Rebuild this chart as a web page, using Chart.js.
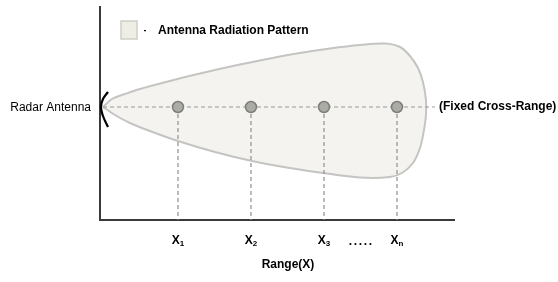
<!DOCTYPE html>
<html>
<head>
<meta charset="utf-8">
<script src="https://cdn.jsdelivr.net/npm/chart.js@4/dist/chart.umd.min.js"></script>
<style>
  html, body { margin: 0; padding: 0; background: #ffffff; }
  #wrap { width: 558px; height: 282px; position: relative; }
</style>
</head>
<body>
<div id="wrap"><canvas id="c" width="558" height="282"></canvas></div>
<script>
// ---- data ----
const categories = ['X1', 'X2', 'X3', 'Xn'];
const tickMain = ['X', 'X', 'X', 'X'];
const tickSub = ['1', '2', '3', 'n'];
const rangePositions = [1, 2, 3, 4];
const crossRangeValues = [0, 0, 0, 0];

// outline of the antenna radiation pattern (range, cross-range)
const patternX = [-0.027, 0.096, 0.274, 0.479, 0.890, 1.301, 1.753, 2.260, 2.671, 3.082, 3.493, 3.836, 4.041, 4.178, 4.288, 4.356, 4.397,
                  4.397, 4.370, 4.315, 4.219, 4.068, 3.904, 3.493, 2.986, 2.534, 2.014, 1.507, 1.000, 0.616, 0.342, 0.137, -0.027];
const patternY = [0, 0.16, 0.26, 0.36, 0.52, 0.67, 0.82, 0.97, 1.08, 1.17, 1.24, 1.27, 1.20, 1.02, 0.78, 0.50, 0.14,
                  -0.16, -0.46, -0.82, -1.12, -1.32, -1.40, -1.41, -1.32, -1.22, -1.08, -0.90, -0.68, -0.48, -0.32, -0.16, 0];

// radar antenna arc
const antennaX = [0.041, -0.027, -0.055, -0.027, 0.041];
const antennaY = [0.30, 0.16, 0.0, -0.18, -0.40];

// fixed cross-range line
const crossLineX = [-0.027, 4.52];
const crossLineY = [0, 0];

// axis limits
const xMin = -0.068, xMax = 4.781;
const yMin = -2.26, yMax = 2.0;

const legendLabel = 'Antenna Radiation Pattern';
const antennaLabel = 'Radar Antenna';
const crossLabel = '(Fixed Cross-Range)';
const xTitle = 'Range(X)';

// ---- build datasets ----
const zip = (xs, ys) => xs.map((x, i) => ({ x: x, y: ys[i] }));
const verticalData = [];
rangePositions.forEach((x, i) => {
  verticalData.push({ x: x, y: crossRangeValues[i] });
  verticalData.push({ x: x, y: yMin });
  verticalData.push({ x: x, y: null });
});

const FONT = '"Liberation Sans", Arial, sans-serif';

const textPlugin = {
  id: 'texts',
  afterDraw(chart) {
    const ctx = chart.ctx;
    const xs = chart.scales.x, ys = chart.scales.y;
    ctx.save();
    ctx.fillStyle = '#000';
    ctx.textBaseline = 'middle';
    // legend
    ctx.fillStyle = '#efeee4';
    ctx.strokeStyle = '#cfcfc6';
    ctx.lineWidth = 1.5;
    ctx.fillRect(121, 21, 16, 18);
    ctx.strokeRect(121, 21, 16, 18);
    ctx.fillStyle = '#000';
    ctx.fillRect(144, 30, 2, 1.2);
    ctx.font = 'bold 12px ' + FONT;
    ctx.textAlign = 'left';
    ctx.fillText(legendLabel, 158, 31);
    // radar antenna label
    ctx.font = '12px ' + FONT;
    ctx.textAlign = 'right';
    const y0 = ys.getPixelForValue(0);
    ctx.fillText(antennaLabel, 91, y0 + 1);
    // cross range label
    ctx.font = 'bold 12px ' + FONT;
    ctx.textAlign = 'left';
    ctx.fillText(crossLabel, 439, y0);
    // tick labels
    ctx.textBaseline = 'alphabetic';
    rangePositions.forEach((v, i) => {
      const px = xs.getPixelForValue(v);
      ctx.font = 'bold 12px ' + FONT;
      const wMain = ctx.measureText(tickMain[i]).width;
      ctx.font = 'bold 8px ' + FONT;
      const wSub = ctx.measureText(tickSub[i]).width;
      const left = px - (wMain + wSub) / 2;
      ctx.font = 'bold 12px ' + FONT;
      ctx.textAlign = 'left';
      ctx.fillText(tickMain[i], left, 244);
      ctx.font = 'bold 8px ' + FONT;
      ctx.fillText(tickSub[i], left + wMain, 246);
    });
    // ellipsis between X3 and Xn
    ctx.font = 'bold 12px ' + FONT;
    const dotsX = (xs.getPixelForValue(rangePositions[2]) + xs.getPixelForValue(rangePositions[3])) / 2;
    ctx.textAlign = 'center';
    for (let k = 0; k < 5; k++) {
      ctx.fillText('.', dotsX - 10 + k * 5, 245);
    }
    // axis title
    ctx.textAlign = 'center';
    ctx.fillText(xTitle, 288, 268);
    ctx.restore();
  }
};

new Chart(document.getElementById('c'), {
  type: 'scatter',
  data: {
    datasets: [
      {
        label: legendLabel,
        data: zip(patternX, patternY),
        showLine: true,
        tension: 0.35,
        fill: 'shape',
        backgroundColor: '#f4f3ef',
        borderColor: '#c4c4c2',
        borderWidth: 2,
        pointRadius: 0,
        order: 5,
        clip: false
      },
      {
        label: 'cross',
        data: zip(crossLineX, crossLineY),
        showLine: true,
        borderColor: '#9a9a9a',
        borderWidth: 1.2,
        borderDash: [4, 3],
        pointRadius: 0,
        order: 4,
        clip: false
      },
      {
        label: 'verticals',
        data: verticalData,
        showLine: true,
        spanGaps: false,
        borderColor: '#8f8f8f',
        borderWidth: 1.2,
        borderDash: [4, 3],
        pointRadius: 0,
        order: 3
      },
      {
        label: 'positions',
        data: zip(rangePositions, crossRangeValues),
        showLine: false,
        pointRadius: 5.5,
        pointBackgroundColor: '#acaca6',
        pointBorderColor: '#7e7e79',
        pointBorderWidth: 1.5,
        order: 1
      },
      {
        label: 'antenna',
        data: zip(antennaX, antennaY),
        showLine: true,
        tension: 0.4,
        borderColor: '#000',
        borderWidth: 2.2,
        pointRadius: 0,
        order: 0,
        clip: false
      }
    ]
  },
  options: {
    responsive: false,
    animation: false,
    events: [],
    layout: { padding: { left: 100, right: 104, top: 7, bottom: 62 } },
    plugins: { legend: { display: false }, tooltip: { enabled: false } },
    scales: {
      x: {
        type: 'linear', min: xMin, max: xMax,
        grid: { display: false, drawTicks: false },
        ticks: { display: false },
        border: { display: true, color: '#3a3a3a', width: 2 }
      },
      y: {
        type: 'linear', min: yMin, max: yMax,
        grid: { display: false, drawTicks: false },
        ticks: { display: false },
        border: { display: true, color: '#3a3a3a', width: 2 }
      }
    }
  },
  plugins: [textPlugin]
});
</script>
</body>
</html>
